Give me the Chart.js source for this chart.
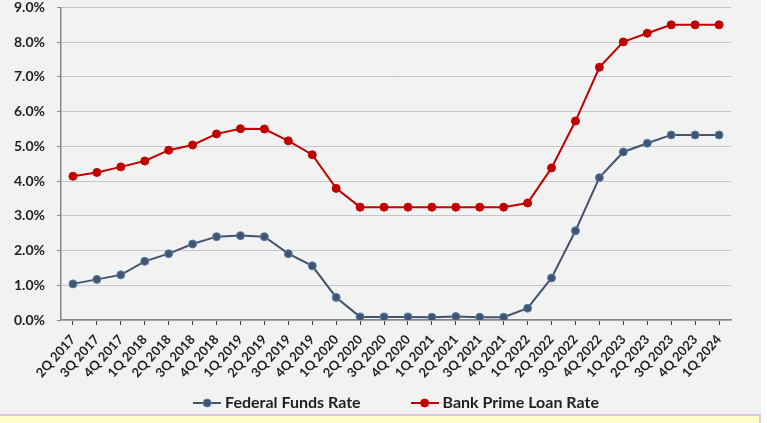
<!DOCTYPE html>
<html>
<head>
<meta charset="utf-8">
<script src="https://cdn.jsdelivr.net/npm/chart.js@4.4.1/dist/chart.umd.min.js"></script>
<style>
  html, body { margin: 0; padding: 0; background: #ffffff; }
  #bg { position: absolute; left: 0; top: 0; width: 761px; height: 414px; background: #f2f2f2; }
  #note { position: absolute; left: 0; top: 414px; width: 761px; height: 9px; background: #ffffcc;
          border-top: 2px solid #dcc6ea; border-right: 2px solid #dcc6ea; box-sizing: border-box; }
  #wrap { position: absolute; left: 0; top: 0; width: 761px; height: 414px; }
</style>
</head>
<body>
<div id="bg"></div>
<div id="note"></div>
<div id="wrap"><canvas id="rateChart" width="761" height="414"></canvas></div>
<script>
const quarters = ["2Q 2017", "3Q 2017", "4Q 2017", "1Q 2018", "2Q 2018", "3Q 2018", "4Q 2018",
  "1Q 2019", "2Q 2019", "3Q 2019", "4Q 2019", "1Q 2020", "2Q 2020", "3Q 2020", "4Q 2020",
  "1Q 2021", "2Q 2021", "3Q 2021", "4Q 2021", "1Q 2022", "2Q 2022", "3Q 2022", "4Q 2022",
  "1Q 2023", "2Q 2023", "3Q 2023", "4Q 2023", "1Q 2024"];

const fedFundsRate = [1.04, 1.17, 1.30, 1.69, 1.91, 2.19, 2.40, 2.43, 2.40, 1.91, 1.56, 0.65,
  0.09, 0.09, 0.09, 0.08, 0.10, 0.08, 0.08, 0.34, 1.21, 2.57, 4.10, 4.84, 5.09, 5.33, 5.33, 5.33];

const primeLoanRate = [4.14, 4.25, 4.41, 4.58, 4.89, 5.04, 5.36, 5.51, 5.50, 5.16, 4.76, 3.79,
  3.25, 3.25, 3.25, 3.25, 3.25, 3.25, 3.25, 3.37, 4.38, 5.73, 7.28, 8.01, 8.26, 8.50, 8.50, 8.50];

const seriesNames = ["Federal Funds Rate", "Bank Prime Loan Rate"];

const fontFamily = "Lato, 'Open Sans', sans-serif";
const textColor = "#1f1f1f";

// little line-with-dot icon used for the legend
function legendIcon(lineColor, dotColor, ringColor) {
  const c = document.createElement("canvas");
  c.width = 28;
  c.height = 12;
  const g = c.getContext("2d");
  g.strokeStyle = lineColor;
  g.lineWidth = 2;
  g.beginPath();
  g.moveTo(0, 6);
  g.lineTo(28, 6);
  g.stroke();
  g.fillStyle = dotColor;
  g.strokeStyle = ringColor;
  g.lineWidth = 1;
  g.beginPath();
  g.arc(14, 6, 4, 0, Math.PI * 2);
  g.fill();
  g.stroke();
  return c;
}

const icons = [
  legendIcon("#44546a", "#44546a", "#4f81bd"),
  legendIcon("#c00000", "#c00000", "#c00000")
];

// put the legend where the original sits (below the rotated labels, centred on the plot)
const legendPlacer = {
  id: "legendPlacer",
  afterLayout(chart) {
    const lg = chart.legend;
    const pad = lg.options.labels.padding;
    lg.top = 403 - 8 - pad;
    lg.bottom = chart.height;
    lg.height = lg.bottom - lg.top;
    const d = 398 - (lg.left + lg.right) / 2;
    lg.left += d;
    lg.right += d;
  }
};

const ctx = document.getElementById("rateChart").getContext("2d");
new Chart(ctx, {
  type: "line",
  data: {
    labels: quarters,
    datasets: [{
      label: seriesNames[0],
      data: fedFundsRate,
      borderColor: "#44546a",
      borderWidth: 2,
      pointRadius: 4,
      pointBorderWidth: 1,
      pointBackgroundColor: "#44546a",
      pointBorderColor: "#4f81bd",
      tension: 0
    }, {
      label: seriesNames[1],
      data: primeLoanRate,
      borderColor: "#c00000",
      borderWidth: 2,
      pointRadius: 4,
      pointBorderWidth: 1,
      pointBackgroundColor: "#c00000",
      pointBorderColor: "#c00000",
      tension: 0
    }]
  },
  plugins: [legendPlacer],
  options: {
    responsive: false,
    animation: false,
    layout: { padding: { left: 5, right: 30, top: 0, bottom: 0 } },
    plugins: {
      tooltip: { enabled: false },
      legend: {
        position: "bottom",
        maxHeight: 29,
        labels: {
          usePointStyle: true,
          pointStyleWidth: 20,
          boxHeight: 12,
          padding: 54,
          color: textColor,
          font: { family: fontFamily, size: 16, weight: "bold" },
          generateLabels: chart => chart.data.datasets.map((ds, i) => ({
            text: ds.label,
            pointStyle: icons[i],
            fillStyle: ds.borderColor,
            strokeStyle: ds.borderColor,
            lineWidth: 0,
            fontColor: textColor,
            hidden: false,
            datasetIndex: i
          }))
        }
      }
    },
    scales: {
      x: {
        offset: true,
        afterFit: scale => {
          scale.height = 65;
          scale.paddingLeft = 0;
          scale.paddingRight = 0;
        },
        grid: {
          offset: false,
          drawOnChartArea: false,
          drawTicks: true,
          tickLength: 5,
          tickColor: "#404040"
        },
        border: { color: "#868686", width: 1.5 },
        ticks: {
          autoSkip: false,
          minRotation: 48,
          maxRotation: 48,
          padding: 7,
          color: textColor,
          font: { family: fontFamily, size: 13, weight: "bold" }
        }
      },
      y: {
        min: 0,
        max: 9,
        afterFit: scale => {
          scale.width = 56;
          scale.paddingTop = 7.5;
          scale.paddingBottom = 0;
        },
        grid: {
          color: "#c6c6c6",
          lineWidth: 1,
          tickLength: 4,
          tickColor: "#868686"
        },
        border: { color: "#868686", width: 1.5 },
        ticks: {
          stepSize: 1,
          padding: 12,
          color: textColor,
          font: { family: fontFamily, size: 14, weight: "bold" },
          callback: value => value.toFixed(1) + "%"
        }
      }
    }
  }
});
</script>
</body>
</html>
